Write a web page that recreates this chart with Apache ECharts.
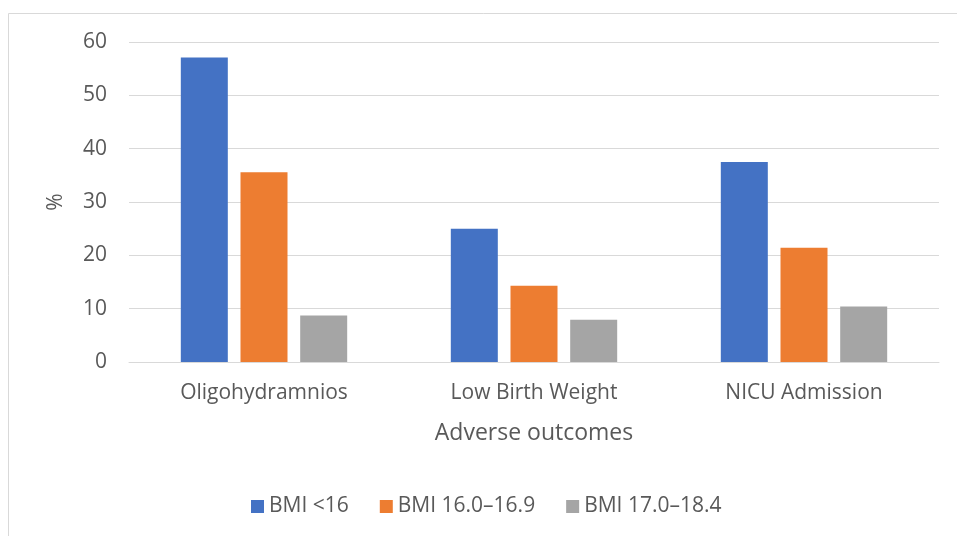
<!DOCTYPE html>
<html>
<head>
<meta charset="utf-8">
<style>
  html, body { margin: 0; padding: 0; background: #ffffff; }
  #chart { width: 957px; height: 536px; }
</style>
<script src="https://cdn.jsdelivr.net/npm/echarts@6/dist/echarts.min.js"></script>
</head>
<body>
<div id="chart"></div>
<script>
// Adverse outcomes by BMI group (%)
const categories = ['Oligohydramnios', 'Low Birth Weight', 'NICU Admission'];
const seriesNames = ['BMI <16', 'BMI 16.0\u201316.9', 'BMI 17.0\u201318.4'];
const bmiUnder16 = [57.1, 25.0, 37.5];
const bmi16to169 = [35.6, 14.3, 21.4];
const bmi17to184 = [8.7, 7.9, 10.4];
const colors = ['#4472C4', '#ED7D31', '#A5A5A5'];

const textColor = '#595959';
const font = 'Open Sans';

const chart = echarts.init(document.getElementById('chart'), null, { renderer: 'canvas' });

const values = [bmiUnder16, bmi16to169, bmi17to184];

chart.setOption({
  animation: false,
  backgroundColor: '#ffffff',
  color: colors,
  graphic: [{
    type: 'rect',
    shape: { x: 8.5, y: 13.5, width: 960, height: 540 },
    style: { fill: 'none', stroke: '#D9D9D9', lineWidth: 1 },
    silent: true
  }],
  grid: { left: 129, right: 18, top: 42, bottom: 174 },
  legend: {
    data: seriesNames,
    left: 246,
    top: 491,
    itemWidth: 13,
    itemHeight: 13,
    itemGap: 31,
    icon: 'rect',
    textStyle: { color: textColor, fontFamily: font, fontSize: 21 }
  },
  xAxis: {
    type: 'category',
    data: categories,
    name: 'Adverse outcomes',
    nameLocation: 'middle',
    nameGap: 60,
    nameTextStyle: { color: textColor, fontFamily: font, fontSize: 23 },
    axisLine: { lineStyle: { color: '#D9D9D9', width: 1 } },
    axisTick: { show: false },
    axisLabel: { color: textColor, fontFamily: font, fontSize: 21, margin: 21 }
  },
  yAxis: {
    type: 'value',
    min: 0,
    max: 60,
    interval: 10,
    name: '%',
    nameLocation: 'middle',
    nameGap: 62,
    nameTextStyle: { color: textColor, fontFamily: font, fontSize: 21 },
    axisLine: { show: false },
    axisTick: { show: false },
    splitLine: { lineStyle: { color: '#D9D9D9', width: 1 } },
    axisLabel: { color: textColor, fontFamily: font, fontSize: 21, margin: 22 }
  },
  series: seriesNames.map((name, i) => ({
    name: name,
    type: 'bar',
    data: values[i],
    barWidth: 47,
    barGap: '27%',
    itemStyle: { color: colors[i] }
  }))
});
</script>
</body>
</html>
